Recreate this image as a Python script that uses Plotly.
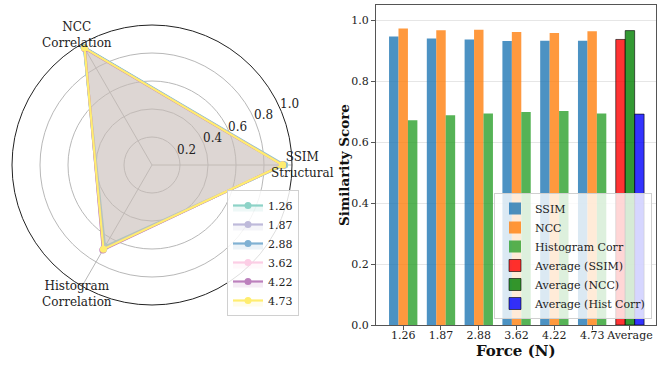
import math
import plotly.graph_objects as go

forces = ["1.26", "1.87", "2.88", "3.62", "4.22", "4.73"]
ssim = [0.947, 0.940, 0.937, 0.932, 0.933, 0.933]
ncc = [0.973, 0.967, 0.969, 0.961, 0.958, 0.964]
hist = [0.672, 0.688, 0.694, 0.699, 0.702, 0.694]
avg_ssim = [0.937]
avg_ncc = [0.966]
avg_hist = [0.692]
radar_labels = ["SSIM<br>Structural", "NCC<br>Correlation", "Histogram<br>Correlation"]
radial_ticks = [0.2, 0.4, 0.6, 0.8, 1.0]
radar_colors = ["#8dd3c7", "#bebada", "#80b1d3", "#fccde5", "#bc80bd", "#ffed6f"]

SERIF = "DejaVu Serif"

def rgba(h, a):
    h = h.lstrip("#")
    r, g, b = int(h[0:2], 16), int(h[2:4], 16), int(h[4:6], 16)
    return f"rgba({r},{g},{b},{a})"

fig = go.Figure()

for i, f in enumerate(forces):
    vals = [ssim[i], ncc[i], hist[i]]
    fig.add_trace(go.Scatterpolar(
        r=vals + [vals[0]],
        theta=[0, 120, 240, 0],
        mode="lines+markers",
        line=dict(color=radar_colors[i], width=2.2),
        marker=dict(size=7, color=radar_colors[i]),
        fill="toself",
        fillcolor=rgba(radar_colors[i], 0.15),
        name=f,
        legend="legend",
        subplot="polar",
    ))

bw = 0.25
edge = dict(width=1, color="rgba(0,0,0,0.6)")
fig.add_trace(go.Bar(x=forces, y=ssim, width=bw, offset=-0.375, name="SSIM",
                     marker=dict(color="rgba(31,119,180,0.8)", line=dict(width=0)),
                     legend="legend2"))
fig.add_trace(go.Bar(x=forces, y=ncc, width=bw, offset=-0.125, name="NCC",
                     marker=dict(color="rgba(255,127,14,0.8)", line=dict(width=0)),
                     legend="legend2"))
fig.add_trace(go.Bar(x=forces, y=hist, width=bw, offset=0.125, name="Histogram Corr",
                     marker=dict(color="rgba(44,160,44,0.8)", line=dict(width=0)),
                     legend="legend2"))
fig.add_trace(go.Bar(x=["Average"], y=avg_ssim, width=bw, offset=-0.375, name="Average (SSIM)",
                     marker=dict(color="rgba(255,0,0,0.8)", line=edge), legend="legend2"))
fig.add_trace(go.Bar(x=["Average"], y=avg_ncc, width=bw, offset=-0.125, name="Average (NCC)",
                     marker=dict(color="rgba(0,128,0,0.8)", line=edge), legend="legend2"))
fig.add_trace(go.Bar(x=["Average"], y=avg_hist, width=bw, offset=0.125, name="Average (Hist Corr)",
                     marker=dict(color="rgba(0,0,255,0.8)", line=edge), legend="legend2"))

W, H = 666, 366
CX, CY, R = 152, 165, 140  # radar center / radius in px

annotations = []
# category labels of the radar
label_pos = [(302, 165), (77, 35), (77, 294)]
for (px, py), txt in zip(label_pos, radar_labels):
    annotations.append(dict(
        x=px/W, y=1 - py/H, xref="paper", yref="paper",
        text=txt, showarrow=False, xanchor="center", yanchor="middle",
        font=dict(family=SERIF, size=12, color="#222"), align="center",
    ))
# radial tick labels (horizontal, matplotlib-style placement)
ang = math.radians(24)
for v in radial_ticks:
    rr = v * R + 10
    px, py = CX + rr * math.cos(ang), CY - rr * math.sin(ang)
    annotations.append(dict(
        x=px/W, y=1 - py/H, xref="paper", yref="paper",
        text=f"{v:.1f}", showarrow=False, xanchor="center", yanchor="middle",
        font=dict(family=SERIF, size=12, color="#222"),
    ))
annotations.append(dict(
    x=344/W, y=1 - 165/H, xref="paper", yref="paper", textangle=-90,
    text="<b>Similarity Score</b>", showarrow=False, xanchor="center", yanchor="middle",
    font=dict(family=SERIF, size=13.5, color="#111"),
))
annotations.append(dict(
    x=516/W, y=1 - 351/H, xref="paper", yref="paper",
    text="<b>Force (N)</b>", showarrow=False, xanchor="center", yanchor="middle",
    font=dict(family=SERIF, size=15, color="#111"),
))

fig.update_layout(
    width=W, height=H,
    margin=dict(l=0, r=0, t=0, b=0, autoexpand=False),
    paper_bgcolor="white",
    plot_bgcolor="white",
    font=dict(family=SERIF, size=12, color="#222"),
    barmode="overlay",
    annotations=annotations,
    polar=dict(
        domain=dict(x=[(CX-R)/W, (CX+R)/W], y=[1-(CY+R)/H, 1-(CY-R)/H]),
        bgcolor="white",
        radialaxis=dict(
            range=[0, 1], tickvals=radial_ticks, showticklabels=False,
            angle=22.5, showline=False, ticks="",
            gridcolor="#b8b8b8", gridwidth=0.8,
        ),
        angularaxis=dict(
            tickvals=[0, 120, 240], showticklabels=False,
            rotation=0, direction="counterclockwise",
            showline=True, linecolor="#222", linewidth=1,
            gridcolor="#b8b8b8", gridwidth=0.8, ticks="",
        ),
    ),
    xaxis=dict(
        domain=[376/W, 656/W], anchor="y", automargin=False,
        type="category", categoryorder="array", categoryarray=forces + ["Average"],
        range=[-0.72, 6.69], tickangle=0,
        showline=True, mirror=True, linecolor="#555", linewidth=1,
        ticks="outside", ticklen=4, tickcolor="#555", ticklabelstandoff=-4,
        showgrid=False,
        tickfont=dict(family=SERIF, size=11, color="#222"),
    ),
    yaxis=dict(
        domain=[41/H, 361/H], anchor="x", automargin=False,
        range=[0, 1.05], tickvals=[0, 0.2, 0.4, 0.6, 0.8, 1.0], tickformat=".1f",
        showline=True, mirror=True, linecolor="#555", linewidth=1,
        ticks="outside", ticklen=4, tickcolor="#555",
        showgrid=True, gridcolor="#e6e6e6", gridwidth=1, zeroline=False,
        tickfont=dict(family=SERIF, size=11, color="#222"),
    ),
    legend=dict(
        x=227/W, y=1 - 253/H, xanchor="left", yanchor="middle",
        bgcolor="rgba(255,255,255,0.85)", bordercolor="#d0d0d0", borderwidth=1,
        font=dict(family=SERIF, size=11, color="#222"),
        tracegroupgap=0, itemwidth=30,
    ),
    legend2=dict(
        x=652/W, y=1 - 319/H, xanchor="right", yanchor="bottom",
        bgcolor="rgba(255,255,255,0.8)", bordercolor="#d0d0d0", borderwidth=1,
        font=dict(family=SERIF, size=11, color="#222"),
        tracegroupgap=0, itemwidth=30,
    ),
)

fig.write_html("out.html", config={"displayModeBar": False},
               post_script="document.body.style.margin='0';")
